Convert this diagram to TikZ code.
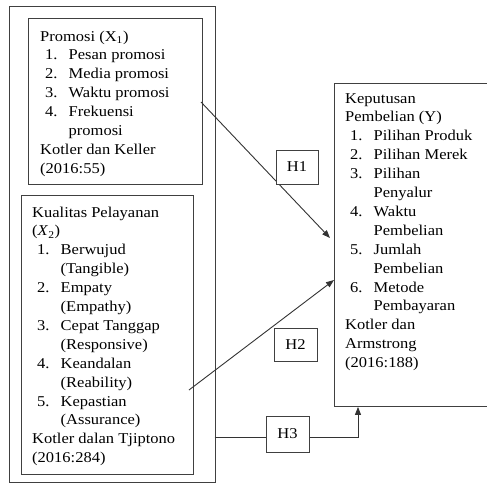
\documentclass[tikz,border=0pt]{standalone}
\usepackage{fontspec}
\setmainfont{Liberation Serif}[FakeStretch=1.1]
\usetikzlibrary{arrows.meta}
\newcommand{\boxfont}{\fontsize{15}{18.9}\selectfont}
\newcommand{\itemline}[2]{\hspace*{5pt}\makebox[23.5pt][l]{#1}#2}
\newcommand{\contline}[1]{\hspace*{28.5pt}#1}
\tikzset{
  box/.style={draw=black!75, line width=0.9pt, inner sep=0pt, anchor=north west},
  hbox/.style={draw=black!75, line width=0.9pt, fill=white, inner sep=0pt, font=\boxfont},
  txt/.style={anchor=base west, inner sep=0pt, font=\boxfont},
  conn/.style={draw=black!80, line width=0.9pt},
  arr/.style={conn, -{Triangle[length=8pt,width=6pt]}},
}
\begin{document}
\begin{tikzpicture}[x=1pt,y=-1pt]
\useasboundingbox (0,0) rectangle (487,485);
% boxes
\node[box, minimum width=205.5pt, minimum height=476pt] (outer) at (9,6) {};
\node[box, minimum width=174pt, minimum height=166pt] (prom) at (28,18) {};
\node[box, minimum width=172pt, minimum height=279pt] (kual) at (21,195) {};
\node[box, minimum width=160pt, minimum height=323pt] (kep) at (334,83) {};
% texts
\node[txt] (tprom) at (40,41) {\parbox[t]{170pt}{%
Promosi (X\textsubscript{1})\\
\itemline{1.}{Pesan promosi}\\
\itemline{2.}{Media promosi}\\
\itemline{3.}{Waktu promosi}\\
\itemline{4.}{Frekuensi}\\
\contline{promosi}\\
Kotler dan Keller\\
(2016:55)}};
\node[txt] (tkual) at (32,217) {\parbox[t]{170pt}{%
Kualitas Pelayanan\\
(\textit{X}\textsubscript{2})\\
\itemline{1.}{Berwujud}\\
\contline{(Tangible)}\\
\itemline{2.}{Empaty}\\
\contline{(Empathy)}\\
\itemline{3.}{Cepat Tanggap}\\
\contline{(Responsive)}\\
\itemline{4.}{Keandalan}\\
\contline{(Reability)}\\
\itemline{5.}{Kepastian}\\
\contline{(Assurance)}\\
Kotler dalan Tjiptono\\
(2016:284)}};
\node[txt] (tkep) at (345,103) {\parbox[t]{170pt}{%
Keputusan\\
Pembelian (Y)\\
\itemline{1.}{Pilihan Produk}\\
\itemline{2.}{Pilihan Merek}\\
\itemline{3.}{Pilihan}\\
\contline{Penyalur}\\
\itemline{4.}{Waktu}\\
\contline{Pembelian}\\
\itemline{5.}{Jumlah}\\
\contline{Pembelian}\\
\itemline{6.}{Metode}\\
\contline{Pembayaran}\\
Kotler dan\\
Armstrong\\
(2016:188)}};
% connectors
\coordinate (a1s) at (201,102);
\coordinate (a1e) at (330,238);
\draw[arr] (a1s) -- (a1e);
\coordinate (a2s) at (189,390);
\coordinate (a2e) at (334,280);
\draw[arr] (a2s) -- (a2e);
\coordinate (a3s) at (214.5,437);
\coordinate (a3m) at (358,437);
\draw[arr] (a3s) -- (a3m) -- (kep.south -| a3m);
% hypothesis labels
\node[hbox, minimum width=42pt, minimum height=34pt] (h1) at (297,167) {H1};
\node[hbox, minimum width=43pt, minimum height=33pt] (h2) at (295.5,344.5) {H2};
\node[hbox, minimum width=43pt, minimum height=36pt] (h3) at (287.5,434) {H3};
\end{tikzpicture}
\end{document}
